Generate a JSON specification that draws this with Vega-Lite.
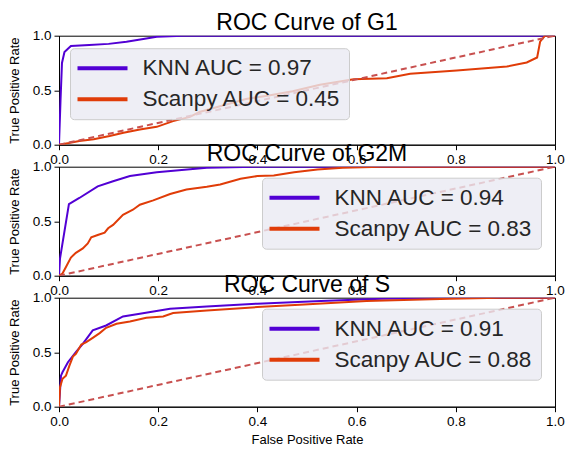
{
  "$schema": "https://vega.github.io/schema/vega-lite/v6.json",
  "background": "white",
  "padding": {"left": 8, "top": 10.7, "right": 5, "bottom": 5},
  "bounds": "flush",
  "spacing": 22,
  "datasets": {
    "g1": [
      {"model": "KNN AUC = 0.97", "fpr": 0, "tpr": 0},
      {"model": "KNN AUC = 0.97", "fpr": 0.003, "tpr": 0.4},
      {"model": "KNN AUC = 0.97", "fpr": 0.006, "tpr": 0.75},
      {"model": "KNN AUC = 0.97", "fpr": 0.011, "tpr": 0.85},
      {"model": "KNN AUC = 0.97", "fpr": 0.018, "tpr": 0.88},
      {"model": "KNN AUC = 0.97", "fpr": 0.024, "tpr": 0.906},
      {"model": "KNN AUC = 0.97", "fpr": 0.061, "tpr": 0.915},
      {"model": "KNN AUC = 0.97", "fpr": 0.1, "tpr": 0.925},
      {"model": "KNN AUC = 0.97", "fpr": 0.136, "tpr": 0.945},
      {"model": "KNN AUC = 0.97", "fpr": 0.17, "tpr": 0.97},
      {"model": "KNN AUC = 0.97", "fpr": 0.197, "tpr": 0.99},
      {"model": "KNN AUC = 0.97", "fpr": 0.25, "tpr": 1.0},
      {"model": "KNN AUC = 0.97", "fpr": 1.0, "tpr": 1.0},
      {"model": "Scanpy AUC = 0.45", "fpr": 0, "tpr": 0},
      {"model": "Scanpy AUC = 0.45", "fpr": 0.02, "tpr": 0.015},
      {"model": "Scanpy AUC = 0.45", "fpr": 0.041, "tpr": 0.033},
      {"model": "Scanpy AUC = 0.45", "fpr": 0.07, "tpr": 0.05},
      {"model": "Scanpy AUC = 0.45", "fpr": 0.102, "tpr": 0.079},
      {"model": "Scanpy AUC = 0.45", "fpr": 0.13, "tpr": 0.11},
      {"model": "Scanpy AUC = 0.45", "fpr": 0.163, "tpr": 0.14},
      {"model": "Scanpy AUC = 0.45", "fpr": 0.197, "tpr": 0.164},
      {"model": "Scanpy AUC = 0.45", "fpr": 0.23, "tpr": 0.216},
      {"model": "Scanpy AUC = 0.45", "fpr": 0.264, "tpr": 0.255},
      {"model": "Scanpy AUC = 0.45", "fpr": 0.283, "tpr": 0.3},
      {"model": "Scanpy AUC = 0.45", "fpr": 0.33, "tpr": 0.36},
      {"model": "Scanpy AUC = 0.45", "fpr": 0.377, "tpr": 0.42},
      {"model": "Scanpy AUC = 0.45", "fpr": 0.42, "tpr": 0.45},
      {"model": "Scanpy AUC = 0.45", "fpr": 0.471, "tpr": 0.49},
      {"model": "Scanpy AUC = 0.45", "fpr": 0.526, "tpr": 0.55},
      {"model": "Scanpy AUC = 0.45", "fpr": 0.594, "tpr": 0.6},
      {"model": "Scanpy AUC = 0.45", "fpr": 0.661, "tpr": 0.61},
      {"model": "Scanpy AUC = 0.45", "fpr": 0.708, "tpr": 0.65},
      {"model": "Scanpy AUC = 0.45", "fpr": 0.802, "tpr": 0.68},
      {"model": "Scanpy AUC = 0.45", "fpr": 0.903, "tpr": 0.717},
      {"model": "Scanpy AUC = 0.45", "fpr": 0.943, "tpr": 0.754},
      {"model": "Scanpy AUC = 0.45", "fpr": 0.964, "tpr": 0.8},
      {"model": "Scanpy AUC = 0.45", "fpr": 0.97, "tpr": 0.945},
      {"model": "Scanpy AUC = 0.45", "fpr": 0.98, "tpr": 1.0},
      {"model": "Scanpy AUC = 0.45", "fpr": 1.0, "tpr": 1.0}
    ],
    "g2m": [
      {"model": "KNN AUC = 0.94", "fpr": 0, "tpr": 0},
      {"model": "KNN AUC = 0.94", "fpr": 0.002, "tpr": 0.157},
      {"model": "KNN AUC = 0.94", "fpr": 0.02, "tpr": 0.657},
      {"model": "KNN AUC = 0.94", "fpr": 0.041, "tpr": 0.713},
      {"model": "KNN AUC = 0.94", "fpr": 0.078, "tpr": 0.82},
      {"model": "KNN AUC = 0.94", "fpr": 0.109, "tpr": 0.867},
      {"model": "KNN AUC = 0.94", "fpr": 0.143, "tpr": 0.914},
      {"model": "KNN AUC = 0.94", "fpr": 0.197, "tpr": 0.95},
      {"model": "KNN AUC = 0.94", "fpr": 0.298, "tpr": 0.99},
      {"model": "KNN AUC = 0.94", "fpr": 0.4, "tpr": 1.0},
      {"model": "KNN AUC = 0.94", "fpr": 1.0, "tpr": 1.0},
      {"model": "Scanpy AUC = 0.83", "fpr": 0, "tpr": 0},
      {"model": "Scanpy AUC = 0.83", "fpr": 0.007, "tpr": 0.02},
      {"model": "Scanpy AUC = 0.83", "fpr": 0.014, "tpr": 0.08},
      {"model": "Scanpy AUC = 0.83", "fpr": 0.024, "tpr": 0.167},
      {"model": "Scanpy AUC = 0.83", "fpr": 0.034, "tpr": 0.21},
      {"model": "Scanpy AUC = 0.83", "fpr": 0.048, "tpr": 0.25},
      {"model": "Scanpy AUC = 0.83", "fpr": 0.058, "tpr": 0.296},
      {"model": "Scanpy AUC = 0.83", "fpr": 0.065, "tpr": 0.352},
      {"model": "Scanpy AUC = 0.83", "fpr": 0.078, "tpr": 0.373},
      {"model": "Scanpy AUC = 0.83", "fpr": 0.092, "tpr": 0.395},
      {"model": "Scanpy AUC = 0.83", "fpr": 0.099, "tpr": 0.435},
      {"model": "Scanpy AUC = 0.83", "fpr": 0.109, "tpr": 0.466},
      {"model": "Scanpy AUC = 0.83", "fpr": 0.129, "tpr": 0.559},
      {"model": "Scanpy AUC = 0.83", "fpr": 0.149, "tpr": 0.605},
      {"model": "Scanpy AUC = 0.83", "fpr": 0.163, "tpr": 0.651},
      {"model": "Scanpy AUC = 0.83", "fpr": 0.19, "tpr": 0.691},
      {"model": "Scanpy AUC = 0.83", "fpr": 0.224, "tpr": 0.75},
      {"model": "Scanpy AUC = 0.83", "fpr": 0.257, "tpr": 0.79},
      {"model": "Scanpy AUC = 0.83", "fpr": 0.298, "tpr": 0.815},
      {"model": "Scanpy AUC = 0.83", "fpr": 0.325, "tpr": 0.836},
      {"model": "Scanpy AUC = 0.83", "fpr": 0.366, "tpr": 0.889},
      {"model": "Scanpy AUC = 0.83", "fpr": 0.4, "tpr": 0.914},
      {"model": "Scanpy AUC = 0.83", "fpr": 0.433, "tpr": 0.92},
      {"model": "Scanpy AUC = 0.83", "fpr": 0.474, "tpr": 0.95},
      {"model": "Scanpy AUC = 0.83", "fpr": 0.521, "tpr": 0.975},
      {"model": "Scanpy AUC = 0.83", "fpr": 0.572, "tpr": 0.99},
      {"model": "Scanpy AUC = 0.83", "fpr": 0.65, "tpr": 1.0},
      {"model": "Scanpy AUC = 0.83", "fpr": 1.0, "tpr": 1.0}
    ],
    "s": [
      {"model": "KNN AUC = 0.91", "fpr": 0, "tpr": 0},
      {"model": "KNN AUC = 0.91", "fpr": 0.004, "tpr": 0.285},
      {"model": "KNN AUC = 0.91", "fpr": 0.007, "tpr": 0.316},
      {"model": "KNN AUC = 0.91", "fpr": 0.018, "tpr": 0.408},
      {"model": "KNN AUC = 0.91", "fpr": 0.034, "tpr": 0.5},
      {"model": "KNN AUC = 0.91", "fpr": 0.048, "tpr": 0.577},
      {"model": "KNN AUC = 0.91", "fpr": 0.068, "tpr": 0.7},
      {"model": "KNN AUC = 0.91", "fpr": 0.095, "tpr": 0.745},
      {"model": "KNN AUC = 0.91", "fpr": 0.129, "tpr": 0.828},
      {"model": "KNN AUC = 0.91", "fpr": 0.163, "tpr": 0.853},
      {"model": "KNN AUC = 0.91", "fpr": 0.224, "tpr": 0.899},
      {"model": "KNN AUC = 0.91", "fpr": 0.298, "tpr": 0.92},
      {"model": "KNN AUC = 0.91", "fpr": 0.4, "tpr": 0.945},
      {"model": "KNN AUC = 0.91", "fpr": 0.528, "tpr": 0.97},
      {"model": "KNN AUC = 0.91", "fpr": 0.65, "tpr": 0.99},
      {"model": "KNN AUC = 0.91", "fpr": 0.8, "tpr": 1.0},
      {"model": "KNN AUC = 0.91", "fpr": 1.0, "tpr": 1.0},
      {"model": "Scanpy AUC = 0.88", "fpr": 0, "tpr": 0},
      {"model": "Scanpy AUC = 0.88", "fpr": 0.002, "tpr": 0.178},
      {"model": "Scanpy AUC = 0.88", "fpr": 0.007, "tpr": 0.255},
      {"model": "Scanpy AUC = 0.88", "fpr": 0.014, "tpr": 0.285},
      {"model": "Scanpy AUC = 0.88", "fpr": 0.021, "tpr": 0.377},
      {"model": "Scanpy AUC = 0.88", "fpr": 0.028, "tpr": 0.46},
      {"model": "Scanpy AUC = 0.88", "fpr": 0.034, "tpr": 0.485},
      {"model": "Scanpy AUC = 0.88", "fpr": 0.045, "tpr": 0.57},
      {"model": "Scanpy AUC = 0.88", "fpr": 0.055, "tpr": 0.592},
      {"model": "Scanpy AUC = 0.88", "fpr": 0.068, "tpr": 0.632},
      {"model": "Scanpy AUC = 0.88", "fpr": 0.082, "tpr": 0.675},
      {"model": "Scanpy AUC = 0.88", "fpr": 0.095, "tpr": 0.724},
      {"model": "Scanpy AUC = 0.88", "fpr": 0.116, "tpr": 0.761},
      {"model": "Scanpy AUC = 0.88", "fpr": 0.143, "tpr": 0.782},
      {"model": "Scanpy AUC = 0.88", "fpr": 0.176, "tpr": 0.816},
      {"model": "Scanpy AUC = 0.88", "fpr": 0.21, "tpr": 0.828},
      {"model": "Scanpy AUC = 0.88", "fpr": 0.23, "tpr": 0.859},
      {"model": "Scanpy AUC = 0.88", "fpr": 0.298, "tpr": 0.883},
      {"model": "Scanpy AUC = 0.88", "fpr": 0.4, "tpr": 0.914},
      {"model": "Scanpy AUC = 0.88", "fpr": 0.485, "tpr": 0.935},
      {"model": "Scanpy AUC = 0.88", "fpr": 0.62, "tpr": 0.97},
      {"model": "Scanpy AUC = 0.88", "fpr": 0.788, "tpr": 0.99},
      {"model": "Scanpy AUC = 0.88", "fpr": 0.89, "tpr": 1.0},
      {"model": "Scanpy AUC = 0.88", "fpr": 1.0, "tpr": 1.0}
    ],
    "diag": [
      {"fpr": 0, "tpr": 0},
      {"fpr": 1, "tpr": 1}
    ]
  },
  "vconcat": [
    {
      "title": {"text": "ROC Curve of G1", "offset": -6},
      "width": 496,
      "height": 109,
      "layer": [
        {
          "data": {"name": "g1"},
          "mark": {"type": "line", "strokeWidth": 2, "clip": true},
          "encoding": {
            "x": {"field": "fpr", "type": "quantitative", "scale": {"domain": [0, 1]}, "title": null, "axis": {"values": [0, 0.2, 0.4, 0.6, 0.8, 1.0]}},
            "y": {"field": "tpr", "type": "quantitative", "scale": {"domain": [0, 1]}, "title": "True Positive Rate", "axis": {"values": [0, 0.5, 1]}},
            "color": {
              "field": "model", "type": "nominal",
              "scale": {"domain": ["KNN AUC = 0.97", "Scanpy AUC = 0.45"], "range": ["#5200d4", "#e03c08"]},
              "legend": {"orient": "none", "legendX": 11, "legendY": 12.5}
            }
          }
        },
        {
          "data": {"name": "diag"},
          "mark": {"type": "line", "strokeWidth": 2, "strokeDash": [6, 4], "color": "#c8504f", "clip": true},
          "encoding": {
            "x": {"field": "fpr", "type": "quantitative", "title": null},
            "y": {"field": "tpr", "type": "quantitative", "title": "True Positive Rate"}
          }
        }
      ]
    },
    {
      "title": {"text": "ROC Curve of G2M", "offset": -6},
      "width": 496,
      "height": 109,
      "layer": [
        {
          "data": {"name": "g2m"},
          "mark": {"type": "line", "strokeWidth": 2, "clip": true},
          "encoding": {
            "x": {"field": "fpr", "type": "quantitative", "scale": {"domain": [0, 1]}, "title": null, "axis": {"values": [0, 0.2, 0.4, 0.6, 0.8, 1.0]}},
            "y": {"field": "tpr", "type": "quantitative", "scale": {"domain": [0, 1]}, "title": "True Positive Rate", "axis": {"values": [0, 0.5, 1]}},
            "color": {
              "field": "model", "type": "nominal",
              "scale": {"domain": ["KNN AUC = 0.94", "Scanpy AUC = 0.83"], "range": ["#5200d4", "#e03c08"]},
              "legend": {"orient": "none", "legendX": 203, "legendY": 11}
            }
          }
        },
        {
          "data": {"name": "diag"},
          "mark": {"type": "line", "strokeWidth": 2, "strokeDash": [6, 4], "color": "#c8504f", "clip": true},
          "encoding": {
            "x": {"field": "fpr", "type": "quantitative", "title": null},
            "y": {"field": "tpr", "type": "quantitative", "title": "True Positive Rate"}
          }
        }
      ]
    },
    {
      "title": {"text": "ROC Curve of S", "offset": -6},
      "width": 496,
      "height": 109,
      "layer": [
        {
          "data": {"name": "s"},
          "mark": {"type": "line", "strokeWidth": 2, "clip": true},
          "encoding": {
            "x": {"field": "fpr", "type": "quantitative", "scale": {"domain": [0, 1]}, "title": "False Positive Rate", "axis": {"values": [0, 0.2, 0.4, 0.6, 0.8, 1.0]}},
            "y": {"field": "tpr", "type": "quantitative", "scale": {"domain": [0, 1]}, "title": "True Positive Rate", "axis": {"values": [0, 0.5, 1]}},
            "color": {
              "field": "model", "type": "nominal",
              "scale": {"domain": ["KNN AUC = 0.91", "Scanpy AUC = 0.88"], "range": ["#5200d4", "#e03c08"]},
              "legend": {"orient": "none", "legendX": 203, "legendY": 11}
            }
          }
        },
        {
          "data": {"name": "diag"},
          "mark": {"type": "line", "strokeWidth": 2, "strokeDash": [6, 4], "color": "#c8504f", "clip": true},
          "encoding": {
            "x": {"field": "fpr", "type": "quantitative", "title": "False Positive Rate"},
            "y": {"field": "tpr", "type": "quantitative", "title": "True Positive Rate"}
          }
        }
      ]
    }
  ],
  "resolve": {
    "scale": {"color": "independent"},
    "legend": {"color": "independent"}
  },
  "config": {
    "font": "Liberation Sans",
    "view": {"stroke": "black", "strokeWidth": 1},
    "axis": {
      "grid": false,
      "domainColor": "black",
      "tickColor": "black",
      "labelColor": "black",
      "titleColor": "black",
      "labelFont": "Liberation Sans",
      "titleFont": "Liberation Sans",
      "labelFontSize": 13.5,
      "titleFontSize": 13,
      "titleFontWeight": "normal",
      "tickSize": 5,
      "labelPadding": 3,
      "labelFlush": false,
      "labelOverlap": false,
      "labelBound": false,
      "format": ".1f"
    },
    "axisX": {"titlePadding": 5},
    "axisY": {"titlePadding": 10.5},
    "title": {
      "font": "Liberation Sans",
      "fontSize": 23,
      "fontWeight": "normal",
      "color": "black",
      "frame": "group",
      "anchor": "middle"
    },
    "legend": {
      "title": null,
      "fillColor": "rgba(234,234,242,0.8)",
      "strokeColor": "#cccccc",
      "cornerRadius": 4,
      "padding": 8,
      "labelFont": "Liberation Sans",
      "labelFontSize": 22.5,
      "labelColor": "#262626",
      "labelLimit": 400,
      "symbolType": "M-2.5,0H2.5",
      "symbolSize": 400,
      "symbolStrokeWidth": 4,
      "rowPadding": 7,
      "symbolOffset": 12.5,
      "labelOffset": 28
    }
  }
}
